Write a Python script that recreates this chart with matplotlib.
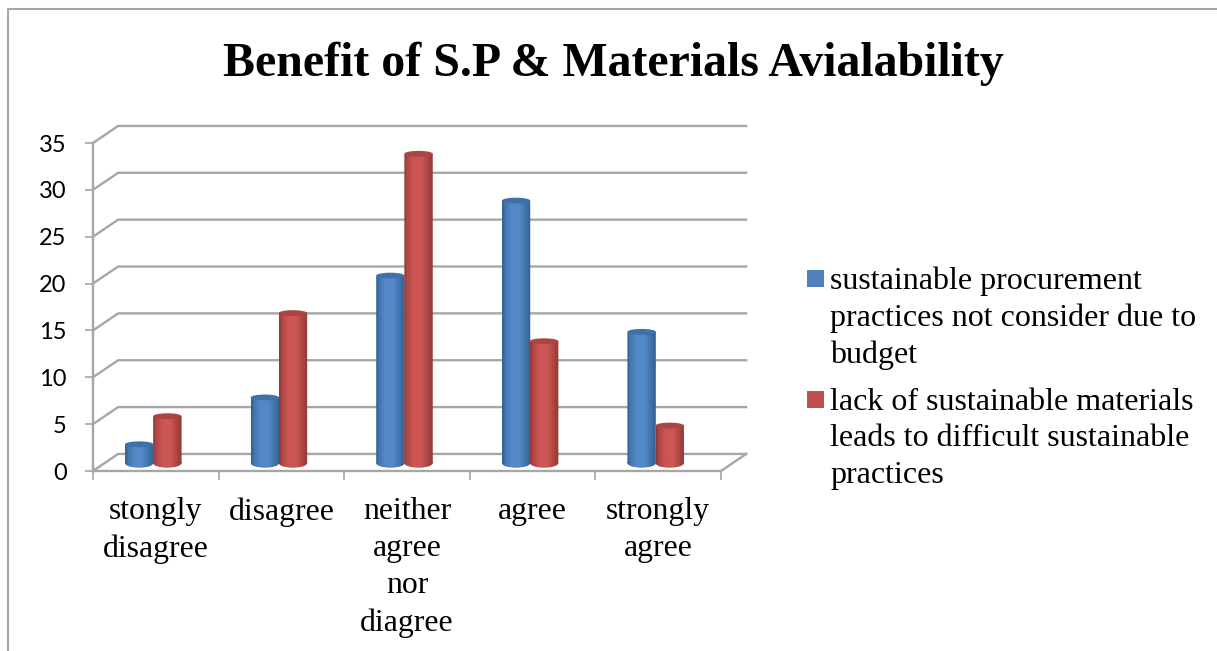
import numpy as np
import matplotlib
matplotlib.use("Agg")
import matplotlib.pyplot as plt
from matplotlib.colors import to_rgb
from matplotlib.lines import Line2D
from matplotlib.patches import Ellipse, Rectangle, PathPatch
from matplotlib.path import Path

categories = ["stongly\ndisagree", "disagree", "neither\nagree\nnor\ndiagree", "agree", "strongly\nagree"]
budget = [2, 7, 20, 28, 14]
materials = [5, 16, 33, 13, 4]
series_names = ["sustainable procurement\npractices not consider due to\nbudget",
                "lack of sustainable materials\nleads to difficult sustainable\npractices"]
yticks = [0, 5, 10, 15, 20, 25, 30, 35]
title = "Benefit of S.P & Materials Avialability"

W, H = 1217, 651
GRAY = "#a6a6a6"
SERIF = "Liberation Serif"
fig = plt.figure(figsize=(W / 100, H / 100), dpi=100)
ax = fig.add_axes([93 / W, (H - 471) / H, (721 - 93) / W, (471 - 143) / H])
ax.patch.set_alpha(0)

dx, dy = 0.2, 1.82          # depth of the 3-D box in data units
for y in yticks:
    ax.plot([0, dx, 5 + dx], [y, y + dy, y + dy], color=GRAY, lw=1.7, clip_on=False, zorder=1,
            solid_joinstyle="miter")
ax.plot([5, 5 + dx], [0, dy], color=GRAY, lw=1.7, clip_on=False, zorder=1)

bw = 0.226
base = 0.85
eh = 0.62
eh_bottom = 1.0
grad_pos = [0, 0.1, 0.32, 0.6, 0.85, 1]


def shade(col, dark, light):
    c = np.array(to_rgb(col))
    d = np.array(to_rgb(dark))
    l = np.array(to_rgb(light))
    stops = [d, 0.35 * d + 0.65 * c, l, l, 0.5 * d + 0.5 * c, d]
    xs = np.linspace(0, 1, 40)
    return np.array([[np.interp(xs, grad_pos, [s[i] for s in stops]) for i in range(3)]]).transpose(0, 2, 1)


def cylinder(xc, v, col, dark, light, top, z):
    x0, x1 = xc - bw / 2, xc + bw / 2
    top_y = base + v
    e = Ellipse((xc, base), bw, eh_bottom)
    ell = e.get_path().transformed(e.get_patch_transform())
    rect = Path([(x0, base), (x1, base), (x1, top_y), (x0, top_y), (x0, base)], closed=True)
    clip = PathPatch(Path.make_compound_path(rect, ell), transform=ax.transData, fc="none", ec="none")
    ax.add_patch(clip)
    im = ax.imshow(shade(col, dark, light), extent=(x0, x1, base - eh_bottom, top_y), aspect="auto",
                   interpolation="bilinear", zorder=z)
    im.set_clip_path(clip)
    ax.add_patch(Ellipse((xc, top_y), bw, eh, fc=top, ec="none", zorder=z + 0.1))


offs = 0.112
for i in range(len(categories)):
    c = i + 0.48
    cylinder(c - offs, budget[i], "#4f81bd", "#31608f", "#5489c8", "#3f70aa", 3)
    cylinder(c + offs, materials[i], "#c0504d", "#8f3836", "#cc5653", "#aa4542", 4)

ax.set_xlim(0, 5)
ax.set_ylim(0, 35)
ax.set_yticks(yticks)
ax.set_xticks(range(6))
ax.set_xticklabels([])
ax.set_xticks(np.arange(5) + 0.5, categories, minor=True, family=SERIF, fontsize=22.9, linespacing=1.36)
ax.tick_params(axis="x", which="major", length=6.5, width=1.2, color=GRAY)
ax.tick_params(axis="x", which="minor", length=0, pad=19)
ax.tick_params(axis="y", length=6, width=1.2, color=GRAY, pad=13)
for t in ax.get_yticklabels():
    t.set_family("Lato")
    t.set_fontsize(17)
for s in ("top", "right"):
    ax.spines[s].set_visible(False)
for s in ("left", "bottom"):
    ax.spines[s].set_color(GRAY)
    ax.spines[s].set_linewidth(1.7)

fig.text(613 / W, 1 - 64 / H, title, family=SERIF, weight="bold", fontsize=34.5, ha="center", va="center")

# chart frame
fig.add_artist(Line2D([8 / W, 8 / W, 1], [0, 1 - 9 / H, 1 - 9 / H], color=GRAY, lw=1.5))

# legend
for name, col, y_sw, y_txt in zip(series_names, ["#4f81bd", "#c0504d"], [279, 400], [267, 388]):
    fig.add_artist(Rectangle((807 / W, 1 - (y_sw + 8) / H), 17 / W, 17 / H, transform=fig.transFigure,
                             fc=col, ec="none"))
    fig.text(830.5 / W, 1 - y_txt / H, name, family=SERIF, fontsize=23, va="top", ha="left", linespacing=1.33)

fig.savefig("out.png", dpi=100)
